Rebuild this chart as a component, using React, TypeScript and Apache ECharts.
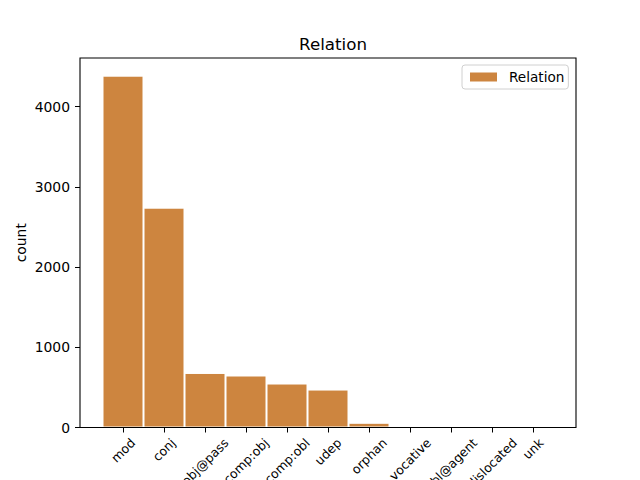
import React, { useEffect, useRef } from "react";
import * as echarts from "echarts";

const categories = ["mod", "conj", "obj@pass", "comp:obj", "comp:obl", "udep", "orphan", "vocative", "obl@agent", "dislocated", "unk"];
const counts = [4385, 2740, 680, 648, 548, 473, 59, 4, 3, 2, 1];
const yTickInterval = 1000;
const yMax = 4605;
const seriesName = "Relation";
const titleText = "Relation";
const yName = "count";

const FONT = "'DejaVu Sans', sans-serif";
const LABEL_SIZE = 12.5;

function measure(text: string, size: number): number {
  const c = document.createElement("canvas");
  const ctx = c.getContext("2d");
  if (!ctx) return text.length * size * 0.6;
  ctx.font = `${size}px 'DejaVu Sans'`;
  return ctx.measureText(text).width;
}

export default function App() {
  const ref = useRef<HTMLDivElement>(null);
  useEffect(() => {
    if (!ref.current) return;
    const chart = echarts.init(ref.current, null, { renderer: "svg" });
    const rich: Record<string, any> = {};
    categories.forEach((c, i) => {
      const w = measure(c, LABEL_SIZE);
      rich["c" + i] = {
        fontSize: LABEL_SIZE,
        fontFamily: FONT,
        color: "#000",
        lineHeight: 14.6,
        padding: [0.5 * w, 0.5 * w, 0, 0],
      };
    });
    chart.setOption({
      animation: false,
      backgroundColor: "#fff",
      title: {
        text: titleText,
        left: 328,
        top: 30,
        textAlign: "center",
        textStyle: { fontFamily: FONT, fontSize: 16.7, fontWeight: "normal", color: "#000" },
      },
      legend: {
        data: [seriesName],
        left: 462,
        top: 65,
        icon: "rect",
        itemWidth: 29,
        itemHeight: 11,
        padding: [5, 4, 5, 6],
        borderColor: "#d0d0d0",
        borderWidth: 1,
        borderRadius: 3,
        backgroundColor: "rgba(255,255,255,0.8)",
        textStyle: { fontFamily: FONT, fontSize: 13.6, color: "#000", padding: [0, 0, 0, 6] },
      },
      grid: { left: 102.5, right: 86.5, top: 58, bottom: 52.5, containLabel: false, outerBoundsMode: "none" },
      xAxis: {
        type: "category",
        data: categories,
        boundaryGap: true,
        axisLine: { show: false },
        axisTick: { show: true, alignWithLabel: true, length: 5, lineStyle: { color: "#000", width: 1 } },
        axisLabel: {
          interval: 0,
          rotate: 45,
          align: "center",
          verticalAlign: "middle",
          margin: 13,
          hideOverlap: false,
          formatter: (v: string) => `{c${categories.indexOf(v)}|${v}}`,
          rich,
        },
        splitLine: { show: false },
      },
      yAxis: {
        type: "value",
        min: 0,
        max: yMax,
        interval: yTickInterval,
        offset: 22.5,
        name: yName,
        nameLocation: "middle",
        nameGap: 52,
        nameMoveOverlap: false,
        nameTextStyle: { fontFamily: FONT, fontSize: 13.9, color: "#000" },
        axisLine: { show: false },
        axisTick: { show: true, length: 5, lineStyle: { color: "#000", width: 1 } },
        axisLabel: {
          margin: 10,
          fontFamily: FONT,
          fontSize: 13.9,
          color: "#000",
          showMaxLabel: false,
          formatter: (v: number) => String(v),
        },
        splitLine: { show: false },
      },
      series: [
        {
          name: seriesName,
          type: "bar",
          data: counts,
          barWidth: "100%",
          barCategoryGap: "0%",
          itemStyle: { color: "#CD853F", borderColor: "#ffffff", borderWidth: 1 },
        },
      ],
      graphic: [
        {
          type: "rect",
          z: 100,
          silent: true,
          shape: { x: 80, y: 58, width: 496, height: 369.5 },
          style: { fill: "none", stroke: "#000", lineWidth: 1.1 },
        },
      ],
    });
    return () => chart.dispose();
  }, []);
  return (
    <div
      ref={ref}
      style={{ position: "fixed", left: 0, top: 0, width: 640, height: 480, background: "#fff" }}
    />
  );
}
